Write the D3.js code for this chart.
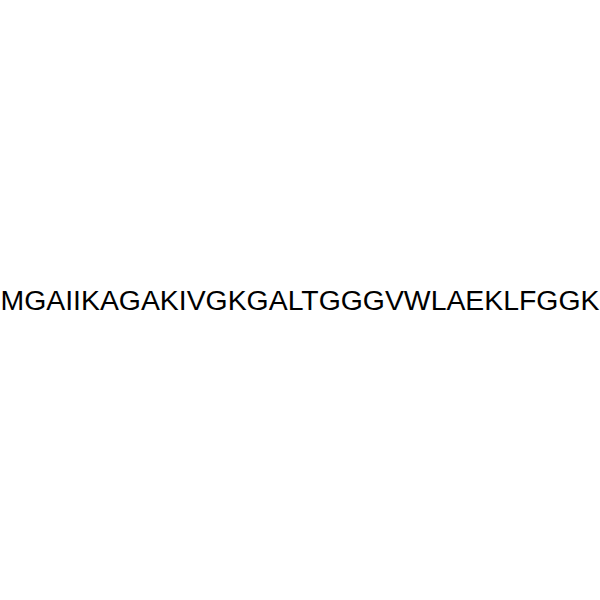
<!DOCTYPE html>
<html>
<head>
<meta charset="utf-8">
<script src="https://cdn.jsdelivr.net/npm/d3@7"></script>
<style>
  html, body { margin: 0; padding: 0; background: #fff; }
</style>
</head>
<body>
<div id="chart"></div>
<script>
// secuencia del péptido (único contenido de la figura)
const sequence = ["MGAIIKAGAKIVGKGALTGGGVWLAEKLFGGK"];

const width = 600, height = 600;

const svg = d3.select("#chart")
  .append("svg")
  .attr("width", width)
  .attr("height", height);

svg.selectAll("text.seq")
  .data(sequence)
  .join("text")
  .attr("class", "seq")
  .attr("x", width / 2)
  .attr("y", 310)
  .attr("text-anchor", "middle")
  .attr("font-family", "Liberation Sans, Arial, sans-serif")
  .attr("font-size", 28.4)
  .attr("fill", "#000")
  .text(d => d);
</script>
</body>
</html>
